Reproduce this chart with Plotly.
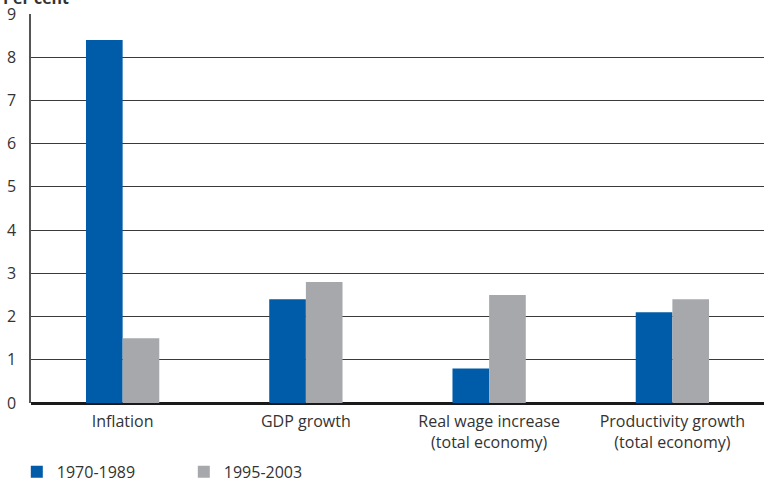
import plotly.graph_objects as go

categories = ["Inflation", "GDP growth", "Real wage increase<br>(total economy)",
              "Productivity growth<br>(total economy)"]
period_a = [8.4, 2.4, 0.8, 2.1]
period_b = [1.5, 2.8, 2.5, 2.4]
series_names = ["1970-1989", "1995-2003"]
y_ticks = [0, 1, 2, 3, 4, 5, 6, 7, 8, 9]

BLUE = "#005ca8"
GREY = "#a7a8ab"
TEXT = "#333333"
FONT = "Open Sans"

fig = go.Figure()
fig.add_trace(go.Bar(x=categories, y=period_a, name=series_names[0],
                     marker=dict(color=BLUE, line=dict(width=0))))
fig.add_trace(go.Bar(x=categories, y=period_b, name=series_names[1],
                     marker=dict(color=GREY, line=dict(width=0))))

fig.update_layout(
    width=764, height=484,
    margin=dict(l=31, r=0, t=14, b=81, autoexpand=False),
    paper_bgcolor="white", plot_bgcolor="white",
    barmode="group", bargap=0.6, bargroupgap=0,
    font=dict(family=FONT, size=16, color=TEXT),
    showlegend=True,
    legend=dict(orientation="h", x=0.022, xref="container", xanchor="left",
                y=0.025, yref="container", yanchor="middle",
                font=dict(family=FONT, size=16, color=TEXT),
                entrywidth=122, entrywidthmode="pixels",
                itemclick=False, bgcolor="rgba(0,0,0,0)"),
    annotations=[dict(text="<b>Per cent</b>", xref="paper", yref="paper",
                      x=-0.041, y=1, xanchor="left", yanchor="middle",
                      yshift=16, showarrow=False,
                      font=dict(family=FONT, size=16, color=TEXT))],
)
fig.update_xaxes(showgrid=False, showline=False, ticks="", ticklabelstandoff=7,
                 tickfont=dict(family=FONT, size=16, color=TEXT))
fig.update_yaxes(range=[0, 9], tickvals=y_ticks, showgrid=True,
                 gridcolor="#3a3a3a", gridwidth=1,
                 zeroline=True, zerolinecolor="#1a1a1a", zerolinewidth=2.5,
                 showline=True, linecolor="#555555", linewidth=1.5,
                 ticks="", ticklabelstandoff=10,
                 tickfont=dict(family=FONT, size=16, color=TEXT))

fig.write_html("out.html")
